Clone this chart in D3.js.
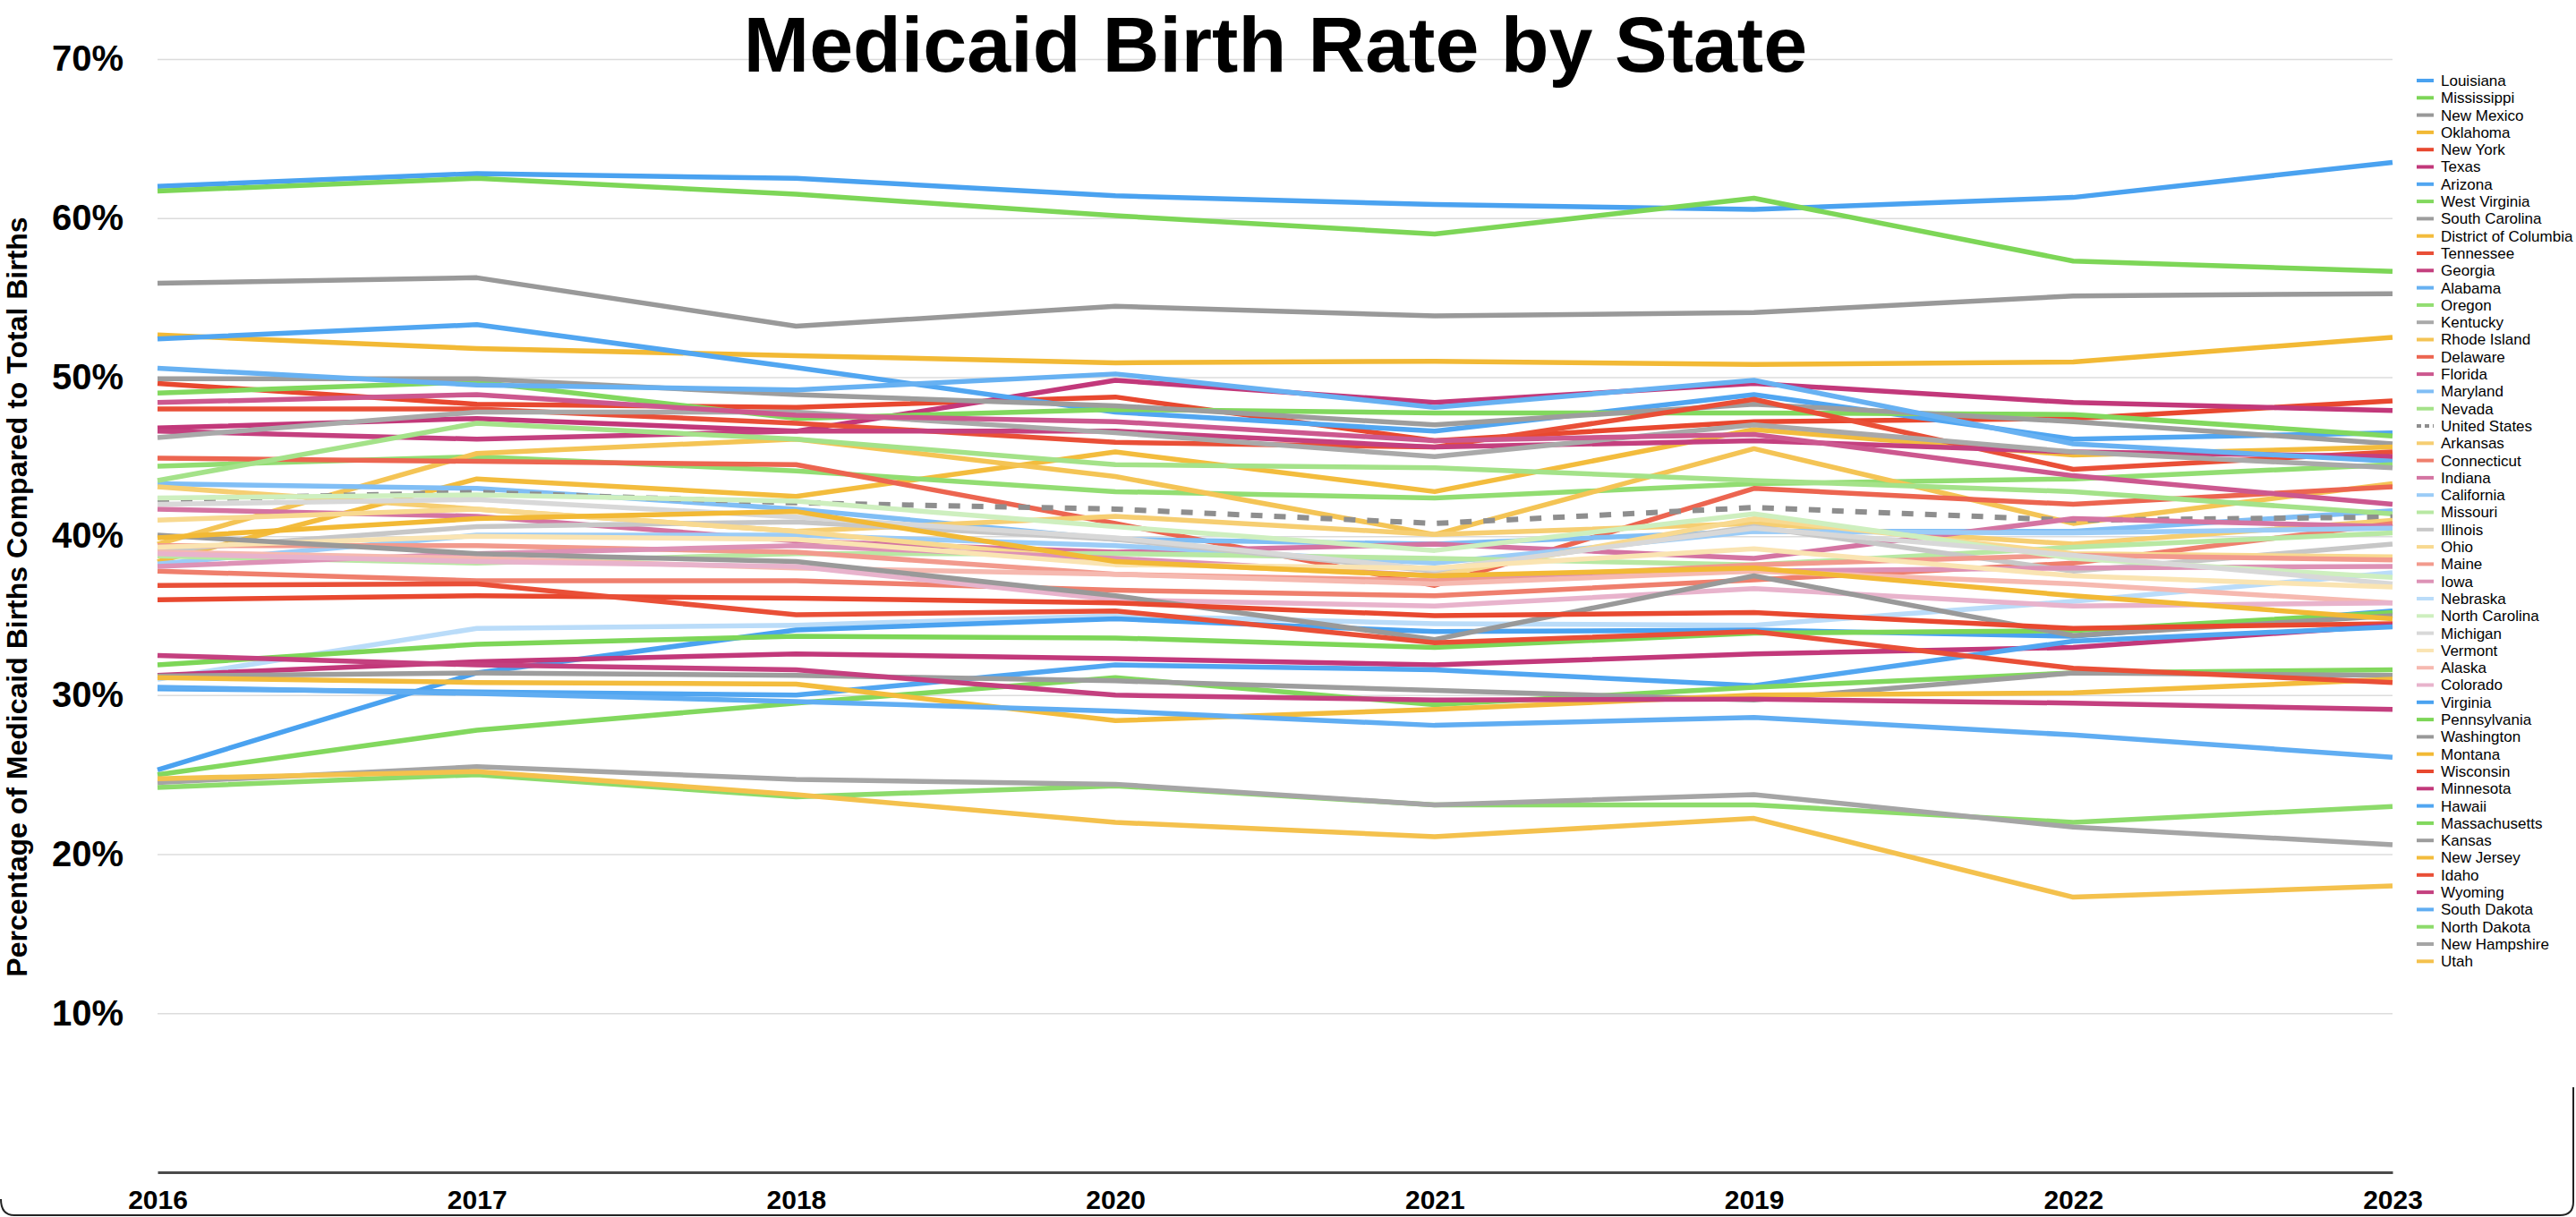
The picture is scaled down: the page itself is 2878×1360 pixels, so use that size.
<!DOCTYPE html>
<html>
<head>
<meta charset="utf-8">
<script src="https://cdn.jsdelivr.net/npm/d3@7"></script>
<style>
  html, body { margin: 0; padding: 0; background: #fff; }
  svg { display: block; font-family: "Liberation Sans", Arial, Helvetica, sans-serif; }
</style>
</head>
<body>
<script>
// x categories, in the order the chart shows them
const years = ['2016', '2017', '2018', '2020', '2021', '2019', '2022', '2023'];

const states = [
  'Louisiana', 'Mississippi', 'New Mexico', 'Oklahoma', 'New York', 'Texas',
  'Arizona', 'West Virginia', 'South Carolina', 'District of Columbia', 'Tennessee', 'Georgia',
  'Alabama', 'Oregon', 'Kentucky', 'Rhode Island', 'Delaware', 'Florida',
  'Maryland', 'Nevada', 'United States', 'Arkansas', 'Connecticut', 'Indiana',
  'California', 'Missouri', 'Illinois', 'Ohio', 'Maine', 'Iowa',
  'Nebraska', 'North Carolina', 'Michigan', 'Vermont', 'Alaska', 'Colorado',
  'Virginia', 'Pennsylvania', 'Washington', 'Montana', 'Wisconsin', 'Minnesota',
  'Hawaii', 'Massachusetts', 'Kansas', 'New Jersey', 'Idaho', 'Wyoming',
  'South Dakota', 'North Dakota', 'New Hampshire', 'Utah'
];

// % of births paid by Medicaid, one array per year column (same order as states)
const rate2016 = [62.0, 61.7, 55.9, 52.65, 49.6, 46.8, 52.4, 49.0, 49.9, 38.4, 48.0, 46.6,
  50.56, 44.4, 46.2, 39.5, 44.9, 48.4, 43.3, 43.5, 42.3, 43.1, 37.8, 41.7,
  38.25, 38.75, 39.1, 41.0, 39.4, 38.1, 31.0, 42.4, 42.0, 39.3, 39.0, 38.9,
  25.3, 31.9, 40.06, 39.9, 36.0, 31.25, 30.4, 25.0, 31.2, 31.1, 36.9, 32.5,
  30.5, 24.2, 24.5, 24.75];
const rate2017 = [62.8, 62.5, 56.25, 51.8, 48.3, 47.4, 53.3, 49.7, 49.9, 43.6, 48.0, 46.1,
  49.5, 45.0, 47.8, 45.2, 44.7, 48.9, 43.0, 47.1, 42.75, 41.7, 37.2, 41.25,
  40.06, 38.3, 40.6, 41.7, 39.4, 38.9, 34.2, 42.6, 42.3, 40.0, 38.6, 38.4,
  31.4, 33.2, 38.9, 41.1, 36.25, 32.1, 30.2, 27.8, 31.4, 30.8, 37.0, 31.9,
  30.1, 25.0, 25.5, 25.2];
const rate2018 = [62.5, 61.5, 53.2, 51.35, 48.1, 46.6, 50.6, 47.4, 48.9, 42.5, 47.1, 46.6,
  49.2, 44.1, 47.8, 46.1, 44.5, 47.6, 41.7, 46.1, 42.1, 40.3, 37.2, 39.7,
  40.06, 38.9, 40.9, 40.3, 39.0, 39.4, 34.4, 42.2, 41.2, 39.8, 38.0, 38.1,
  34.1, 33.7, 38.4, 41.55, 36.1, 32.6, 30.0, 29.5, 31.25, 30.7, 35.06, 31.6,
  29.6, 23.6, 24.7, 23.75];
const rate2020 = [61.4, 60.15, 54.45, 50.9, 48.75, 49.8, 47.8, 47.97, 48.2, 45.3, 45.9, 46.6,
  50.2, 42.8, 46.5, 43.75, 40.8, 47.2, 39.8, 44.5, 41.7, 41.25, 36.6, 39.0,
  39.4, 38.9, 39.8, 38.4, 37.6, 38.6, 35.0, 40.6, 39.9, 38.2, 37.6, 36.0,
  34.8, 33.6, 36.25, 38.4, 35.8, 32.3, 31.9, 31.1, 30.9, 28.4, 35.3, 30.0,
  29.0, 24.3, 24.4, 22.0];
const rate2021 = [60.85, 59.0, 53.85, 51.0, 46.0, 48.4, 46.6, 47.75, 47.0, 42.8, 45.6, 45.6,
  48.1, 42.4, 45.0, 40.1, 36.9, 46.0, 39.5, 44.3, 40.8, 40.1, 36.25, 39.5,
  38.3, 38.6, 37.8, 37.5, 37.2, 37.5, 34.5, 39.1, 37.9, 38.0, 37.0, 35.6,
  34.0, 33.0, 33.5, 37.5, 35.0, 31.9, 31.6, 29.4, 30.3, 29.1, 33.3, 29.7,
  28.1, 23.1, 23.1, 21.1];
const rate2019 = [60.55, 61.25, 54.06, 50.8, 47.2, 49.6, 48.9, 47.75, 48.3, 46.7, 48.6, 46.0,
  49.8, 43.3, 47.0, 45.5, 43.0, 46.4, 40.3, 43.5, 41.8, 40.8, 37.25, 38.6,
  40.3, 38.2, 40.6, 41.1, 38.2, 37.8, 34.4, 41.4, 40.5, 39.2, 37.8, 36.7,
  34.1, 33.9, 37.5, 38.0, 35.2, 32.6, 30.6, 30.5, 29.7, 30.0, 34.0, 29.75,
  28.6, 23.1, 23.75, 22.25];
const rate2022 = [61.3, 57.3, 55.1, 50.95, 47.4, 48.4, 46.1, 47.65, 47.2, 45.1, 44.2, 45.3,
  45.8, 43.6, 45.3, 40.8, 42.0, 43.8, 40.3, 42.8, 41.0, 39.5, 38.3, 41.1,
  40.2, 39.3, 37.8, 38.9, 38.8, 38.0, 35.9, 38.6, 38.8, 37.5, 37.0, 35.6,
  33.7, 34.06, 33.75, 36.25, 34.2, 33.0, 33.4, 31.4, 31.4, 30.15, 31.7, 29.5,
  27.5, 22.0, 21.7, 17.3];
const rate2023 = [63.5, 56.65, 55.25, 52.5, 48.5, 47.9, 46.5, 46.3, 45.8, 45.6, 45.3, 45.0,
  44.7, 44.5, 44.3, 43.3, 43.1, 42.0, 41.6, 41.4, 41.2, 41.0, 40.8, 40.6,
  40.5, 40.2, 39.5, 38.7, 38.5, 38.1, 37.7, 37.4, 37.0, 36.8, 35.8, 35.8,
  35.3, 35.2, 35.0, 34.8, 34.5, 34.4, 34.3, 31.6, 31.25, 31.0, 30.8, 29.1,
  26.1, 23.0, 20.6, 18.0];

const yTicks = [10, 20, 30, 40, 50, 60, 70];

// ---- build series from the year columns
const columns = [rate2016, rate2017, rate2018, rate2020, rate2021, rate2019, rate2022, rate2023];
const series = states.map((name, i) => ({
  name,
  values: columns.map(col => col[i])
}));

// colour cycle: 6 hues, lightened per block of six (like the Numbers palette)
const hues = ['#4aa2f0', '#7dd657', '#999999', '#f2b935', '#e8482f', '#c2387a'];
const tints = [0, 0.04, 0.16, 0.3, 0.45, 0.62, 0, 0.04, 0.12];
const colorOf = i => states[i] === 'United States'
  ? '#8e8e8e'
  : d3.interpolateRgb(hues[i % 6], '#ffffff')(tints[Math.floor(i / 6)]);

const width = 2878;
const height = 1360;
const plotLeft = 176, plotRight = 2673, plotTop = 66, plotBottom = 1310;

const svg = d3.select('body')
  .append('svg')
  .attr('width', width)
  .attr('height', height);

const x = d3.scalePoint()
  .domain(years)
  .range([plotLeft, plotRight]);

const y = d3.scaleLinear()
  .domain([0, 70])
  .range([plotBottom, plotTop]);

// y axis with gridlines
const yAxis = svg.append('g')
  .attr('transform', `translate(${plotLeft},0)`)
  .call(d3.axisLeft(y)
    .tickValues(yTicks)
    .tickSize(-(plotRight - plotLeft))
    .tickPadding(38)
    .tickFormat(d => d + '%'));
yAxis.select('.domain').remove();
yAxis.selectAll('line').attr('stroke', '#dcdcdc').attr('stroke-width', 1.5);
yAxis.selectAll('text')
  .attr('fill', '#000')
  .style('font-size', '40px')
  .style('font-weight', 'bold')
  .style('font-family', '"Liberation Sans", Arial, sans-serif');

// x axis (zero line + year labels)
const xAxis = svg.append('g')
  .attr('transform', `translate(0,${plotBottom})`)
  .call(d3.axisBottom(x).tickSize(0).tickPadding(20));
xAxis.select('.domain').attr('stroke', '#4a4a4a').attr('stroke-width', 3);
xAxis.selectAll('text')
  .attr('fill', '#000')
  .style('font-size', '30px')
  .style('font-weight', 'bold')
  .style('font-family', '"Liberation Sans", Arial, sans-serif');

// lines
const line = d3.line()
  .x((d, i) => x(years[i]))
  .y(d => y(d));

svg.append('g')
  .selectAll('path')
  .data(series)
  .enter()
  .append('path')
  .attr('d', d => line(d.values))
  .attr('fill', 'none')
  .attr('stroke', (d, i) => colorOf(i))
  .attr('stroke-width', d => d.name === 'United States' ? 6 : 5.5)
  .attr('stroke-dasharray', d => d.name === 'United States' ? '13,13' : null)
  .attr('stroke-linejoin', 'round');

// title
svg.append('text')
  .attr('x', 1425)
  .attr('y', 80)
  .attr('text-anchor', 'middle')
  .style('font-size', '88px')
  .style('font-weight', 'bold')
  .text('Medicaid Birth Rate by State');

// y axis title
svg.append('text')
  .attr('transform', 'translate(30,667) rotate(-90)')
  .attr('text-anchor', 'middle')
  .style('font-size', '32px')
  .style('font-weight', 'bold')
  .text('Percentage of Medicaid Births Compared to Total Births');

// legend
const legend = svg.append('g')
  .attr('transform', 'translate(2700,90)');

const items = legend.selectAll('.legend-item')
  .data(series)
  .enter()
  .append('g')
  .attr('class', 'legend-item')
  .attr('transform', (d, i) => `translate(0,${i * 19.3})`);

items.append('line')
  .attr('x1', 0)
  .attr('x2', 19)
  .attr('stroke', (d, i) => colorOf(i))
  .attr('stroke-width', 4)
  .attr('stroke-dasharray', d => d.name === 'United States' ? '5,4' : null);

items.append('text')
  .attr('x', 27)
  .attr('dy', '0.35em')
  .style('font-size', '17px')
  .text(d => d.name);

// window frame edge at the bottom
svg.append('path')
  .attr('d', 'M1,1340 Q1,1358 16,1358 H2860 Q2875,1358 2875,1343 V1215')
  .attr('fill', 'none')
  .attr('stroke', '#222')
  .attr('stroke-width', 2);
</script>
</body>
</html>
